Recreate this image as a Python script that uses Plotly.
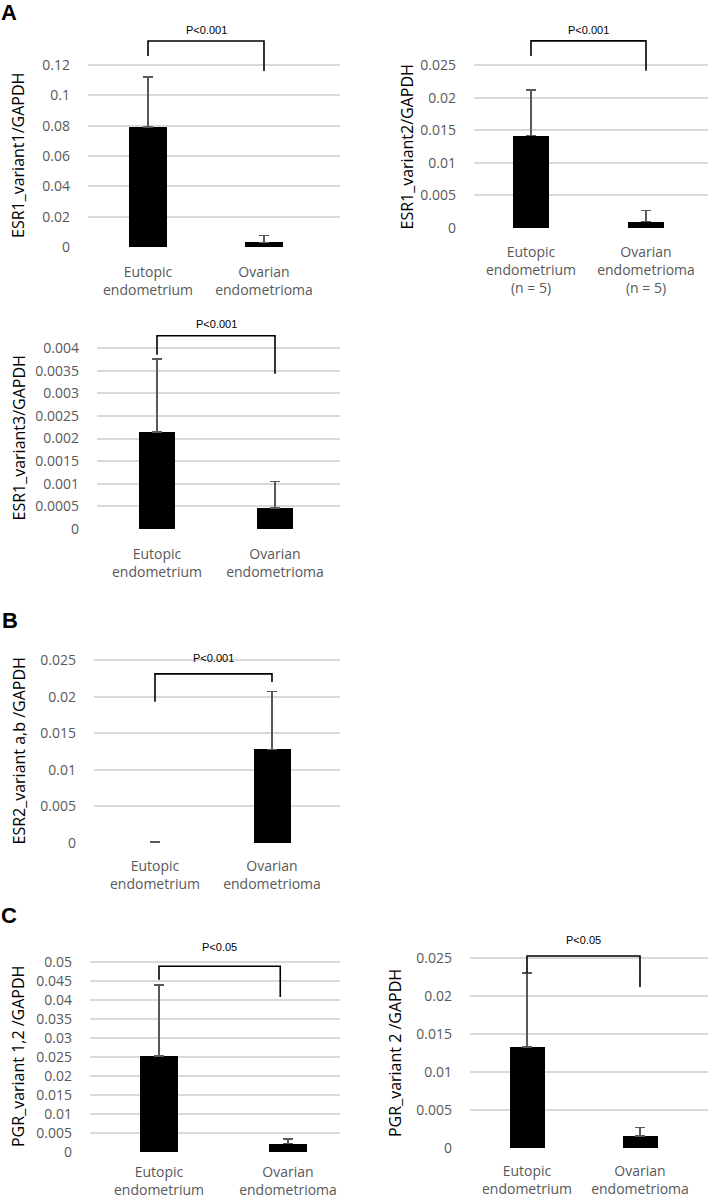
import plotly.graph_objects as go

W, H = 708, 1201

# ---- data ----
cat_labels = ["Eutopic<br>endometrium", "Ovarian<br>endometrioma"]
cat_labels_n5 = ["Eutopic<br>endometrium<br>(n = 5)", "Ovarian<br>endometrioma<br>(n = 5)"]

esr1_v1_mean = [0.079, 0.003]
esr1_v1_sd = [0.033, 0.0045]
esr1_v2_mean = [0.0142, 0.001]
esr1_v2_sd = [0.007, 0.0017]
esr1_v3_mean = [0.00214, 0.00047]
esr1_v3_sd = [0.00162, 0.00058]
esr2_ab_mean = [0.0, 0.0128]
esr2_ab_sd = [0.0002, 0.0079]
pgr_v12_mean = [0.0252, 0.0022]
pgr_v12_sd = [0.0188, 0.0013]
pgr_v2_mean = [0.0133, 0.0016]
pgr_v2_sd = [0.0097, 0.0011]

ticks_012 = [0, 0.02, 0.04, 0.06, 0.08, 0.1, 0.12]
ticks_0025 = [0, 0.005, 0.01, 0.015, 0.02, 0.025]
ticks_0004 = [0, 0.0005, 0.001, 0.0015, 0.002, 0.0025, 0.003, 0.0035, 0.004]
ticks_005 = [0, 0.005, 0.01, 0.015, 0.02, 0.025, 0.03, 0.035, 0.04, 0.045, 0.05]

# bracket: [left leg end, top, right leg end]
esr1_v1_bracket = [0.126, 0.1358, 0.116]
esr1_v2_bracket = [0.0264, 0.0287, 0.0241]
esr1_v3_bracket = [0.00385, 0.00427, 0.00343]
esr2_ab_bracket = [0.0193, 0.0231, 0.022]
pgr_v12_bracket = [0.0453, 0.0489, 0.0408]
pgr_v2_bracket = [0.023, 0.02526, 0.0212]

panels = [
    dict(mean=esr1_v1_mean, sd=esr1_v1_sd, ticks=ticks_012, cats=cat_labels,
         bracket=esr1_v1_bracket, bx=[0, 1], p="P<0.001",
         title="ESR1_variant1/GAPDH", xs=15,
         left=88, right=340, zero=247, top=65, c0=148, c1=264, bw=38, tx=18, gap=3),
    dict(mean=esr1_v2_mean, sd=esr1_v2_sd, ticks=ticks_0025, cats=cat_labels_n5,
         bracket=esr1_v2_bracket, bx=[0, 1], p="P<0.001",
         title="ESR1_variant2/GAPDH", xs=14,
         left=474, right=708, zero=228, top=65, c0=531, c1=646, bw=36, tx=407, gap=3),
    dict(mean=esr1_v3_mean, sd=esr1_v3_sd, ticks=ticks_0004, cats=cat_labels,
         bracket=esr1_v3_bracket, bx=[0, 1], p="P<0.001",
         title="ESR1_variant3/GAPDH", xs=15,
         left=97, right=340, zero=529, top=348, c0=157, c1=275, bw=36, tx=18, gap=4),
    dict(mean=esr2_ab_mean, sd=esr2_ab_sd, ticks=ticks_0025, cats=cat_labels,
         bracket=esr2_ab_bracket, bx=[0, 1], p="P<0.001",
         title="ESR2_variant a,b /GAPDH", xs=13,
         left=94, right=340, zero=843, top=660, c0=155, c1=272, bw=37, tx=18, gap=8),
    dict(mean=pgr_v12_mean, sd=pgr_v12_sd, ticks=ticks_005, cats=cat_labels,
         bracket=pgr_v12_bracket, bx=[0, 0.94], p="P<0.05",
         title="PGR_variant 1,2 /GAPDH", xs=10,
         left=90, right=340, zero=1152, top=962, c0=159, c1=288, bw=38, tx=18, gap=11),
    dict(mean=pgr_v2_mean, sd=pgr_v2_sd, ticks=ticks_0025, cats=cat_labels,
         bracket=pgr_v2_bracket, bx=[0, 1], p="P<0.05",
         title="PGR_variant 2 /GAPDH", xs=13,
         left=470, right=708, zero=1148, top=958, c0=527, c1=640, bw=35, tx=395, gap=8),
]

FONT = "Open Sans"
GRAY = "#595959"
GRID = "#d9d9d9"

fig = go.Figure()
layout = {}
shapes = []
annotations = []

for i, p in enumerate(panels):
    n = "" if i == 0 else str(i + 1)
    top_val = p["ticks"][-1]
    ppu = (p["zero"] - p["top"]) / top_val  # pixels per unit
    br_top_px = p["zero"] - p["bracket"][1] * ppu
    ext = min(br_top_px, p["top"]) - 6
    ymax = (p["zero"] - ext) / ppu
    span = p["c1"] - p["c0"]
    xr = [-(p["c0"] - p["left"]) / span, 1 + (p["right"] - p["c1"]) / span]

    fig.add_trace(go.Bar(
        x=[0, 1], y=p["mean"],
        width=p["bw"] / span,
        marker=dict(color="black", line=dict(width=0)),
        error_y=dict(type="data", symmetric=False, array=p["sd"],
                     arrayminus=[0, 0], color=GRAY, thickness=1.6, width=5),
        xaxis="x" + n, yaxis="y" + n, showlegend=False, hoverinfo="skip",
    ))

    layout["xaxis" + n] = dict(
        domain=[p["left"] / W, p["right"] / W], range=xr, anchor="y" + n,
        tickvals=[0, 1], ticktext=p["cats"], showgrid=False, zeroline=False,
        showline=False, ticks="", ticklabelstandoff=p["xs"], automargin=False,
        tickfont=dict(family=FONT, size=14, color=GRAY), fixedrange=True,
    )
    layout["yaxis" + n] = dict(
        domain=[1 - p["zero"] / H, 1 - ext / H], range=[0, ymax], anchor="x" + n,
        tickvals=p["ticks"], ticktext=[f"{v:g}" for v in p["ticks"]],
        showgrid=True, gridcolor=GRID, gridwidth=1.5, zeroline=False,
        showline=False, ticks="", ticklabelstandoff=17, automargin=False,
        tickfont=dict(family=FONT, size=14, color=GRAY), fixedrange=True,
    )

    l, t, r = p["bracket"]
    x0, x1 = p["bx"]
    shapes.append(dict(
        type="path", xref="x" + n, yref="y" + n,
        path=f"M {x0},{l} L {x0},{t} L {x1},{t} L {x1},{r}",
        line=dict(color="black", width=1.6),
    ))
    annotations.append(dict(
        x=(x0 + x1) / 2, y=t, xref="x" + n, yref="y" + n, text=p["p"],
        showarrow=False, yanchor="bottom", yshift=p["gap"],
        font=dict(family="Arial", size=11, color="black"),
    ))
    annotations.append(dict(
        x=p["tx"] / W, y=1 - (p["zero"] + p["top"]) / 2 / H, xref="paper", yref="paper",
        text=p["title"], textangle=-90, showarrow=False,
        xanchor="center", yanchor="middle",
        font=dict(family=FONT, size=16, color="black"),
    ))

for letter, px, py in [("A", 9, 12), ("B", 10, 620), ("C", 9, 915)]:
    annotations.append(dict(
        x=px / W, y=1 - py / H, xref="paper", yref="paper", text=f"<b>{letter}</b>",
        showarrow=False, xanchor="center", yanchor="middle",
        font=dict(family="Arial", size=22, color="black"),
    ))

fig.update_layout(
    **layout,
    shapes=shapes,
    annotations=annotations,
    template="none",
    width=W, height=H,
    margin=dict(l=0, r=0, t=0, b=0, autoexpand=False),
    paper_bgcolor="white", plot_bgcolor="white",
    bargap=0,
)

fig.write_html("out.html", config={"displayModeBar": False},
               post_script="document.body.style.margin='0';")
